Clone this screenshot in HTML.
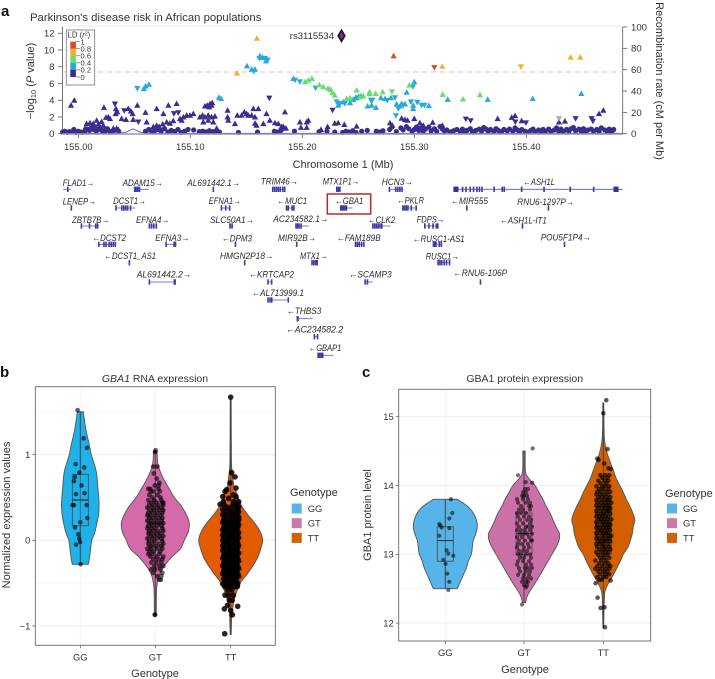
<!DOCTYPE html>
<html lang="en">
<head>
<meta charset="utf-8">
<title>GBA1 Parkinson's disease risk figure</title>
<style>
html,body{margin:0;padding:0;background:#fff;width:715px;height:679px;overflow:hidden}
svg{display:block;font-family:"Liberation Sans",sans-serif;fill:#333}
</style>
</head>
<body>
<svg id="figure" width="715" height="679" viewBox="0 0 715 679" xmlns="http://www.w3.org/2000/svg">
  <text x="1" y="16" font-size="15" font-weight="bold" fill="#111">a</text>
  <text x="30" y="21" font-size="11.3">Parkinson's disease risk in African populations</text>
  <text transform="translate(34,81) rotate(-90)" text-anchor="middle" font-size="11">−log<tspan font-size="7.5" dy="2">10</tspan><tspan dy="-2"> (</tspan><tspan font-style="italic">P</tspan> value)</text>
  <text transform="translate(656,81) rotate(90)" text-anchor="middle" font-size="11">Recombination rate (cM per Mb)</text>
  <text x="343" y="168" text-anchor="middle" font-size="11">Chromosome 1 (Mb)</text>
  <text x="334" y="39" text-anchor="end" font-size="9.5">rs3115534</text>

  <g id="panelA"></g>
  <g id="genes"></g>
  <rect x="327.3" y="194" width="43.4" height="20" fill="none" stroke="#c0272d" stroke-width="1.5"></rect>

  <g>
    <rect x="66.3" y="30" width="28.4" height="55" fill="#fff" stroke="#777" stroke-width="0.8"></rect>
    <text x="67.5" y="37.3" font-size="7.8">LD (<tspan font-style="italic">r</tspan><tspan font-size="5" dy="-2">2</tspan><tspan dy="2">)</tspan></text>
    <g id="ldLegend"></g>
  </g>

  <text x="0" y="377" font-size="15" font-weight="bold" fill="#111">b</text>
  <text x="155" y="382" text-anchor="middle" font-size="10.5"><tspan font-style="italic">GBA1</tspan> RNA expression</text>
  <text transform="translate(10,515) rotate(-90)" text-anchor="middle" font-size="11">Normalized expression values</text>
  <text x="155" y="677" text-anchor="middle" font-size="11">Genotype</text>
  <g id="panelB"></g>
  <text x="290" y="496" font-size="11">Genotype</text>
  <g id="legendB"></g>

  <text x="362" y="377" font-size="15" font-weight="bold" fill="#111">c</text>
  <text x="524.7" y="382" text-anchor="middle" font-size="10.5">GBA1 protein expression</text>
  <text transform="translate(371,515) rotate(-90)" text-anchor="middle" font-size="11">GBA1 protein level</text>
  <text x="525" y="673" text-anchor="middle" font-size="11">Genotype</text>
  <g id="panelC"></g>
  <text x="665" y="497" font-size="11">Genotype</text>
  <g id="legendC"></g>
</svg>

<script>
/* ---------- Panel a data: position is kb after 155.00 Mb, then -log10 P, then marker shape ---------- */
const mbTicks = [0, 100, 200, 300, 400];
const mbTickLabels = ['155.00', '155.10', '155.20', '155.30', '155.40'];
const logPTicks = [0, 2, 4, 6, 8, 10, 12];
const recombTicks = [0, 20, 40, 60, 80, 100];
const significanceLine = 7.37;
const leadSnp = [235, 11.7];
const recombKb = [-14, 20, 35, 42, 49, 56, 65, 100, 200, 300, 400, 486];
const recombRate = [0.3, 0.4, 0.5, 1.2, 4.5, 1.2, 0.5, 0.3, 0.3, 0.3, 0.3, 0.3];
const ldNavyBand = [[-14,.2],[-12,.3],[-10,.15],[-8,.25],[-6,.2],[-4,.5],[-2,.15],[0,.3],[2,.2],[4,.15],[6,.3],[8,.55],[10,.4],[12,.7],[14,.5],[16,.3],[18,.55],[20,.5],[22,.2],[24,.35],[26,.6],[28,.3],[30,.2],[32,.4],[36,.3],[60,.3],[63,.5],[66,.2],[68,.35],[71,.5],[74,.3],[77,.6],[80,.2],[83,.4],[86,.25],[89,.5],[92,.15],[95,.3],[98,.5],[103,.45],[108,.25],[111,.3],[114,.2],[117,.35],[120,.25],[123,.3],[126,.2],[143,.15],[160,.2],[175,.3],[178,.2],[181,.4],[193,.3],[215,.25],[222,.3],[229,.2],[236,.15],[239,.3],[242,.2],[245,.35],[248,.15],[253,.3],[258,.4],[266,.3],[269,.2],[272,.35],[278,.5],[280,.8],[284,.25],[288,.7],[290,.45],[293,.85],[295,.6],[298,.3],[300,.5],[302,.8],[304,.4],[306,.7],[308,.3],[310,.55],[313,.8],[315,.35],[318,.6],[320,.3],[323,.85],[325,.55],[327,.3],[329,.45],[332,.2],[335,.35],[338,.5],[341,.3],[343,.55],[345,.2],[347,.4],[350,.6],[352,.25],[355,.4],[358,.55],[360,.3],[362,.75],[364,.55],[366,.3],[368,.5],[371,.3],[373,.6],[375,.4],[378,.25],[380,.5],[383,.35],[385,.55],[388,.3],[390,.7],[392,.45],[394,.2],[396,.5],[399,.3],[402,.2],[404,.4],[406,.55],[408,.25],[411,.45],[413,.2],[415,.5],[417,.3],[420,.55],[422,.25],[425,.45],[427,.7],[429,.3],[431,.55],[433,.25],[436,.5],[438,.3],[440,.6],[442,.75],[444,.35],[447,.55],[449,.3],[451,.6],[453,.2],[455,.45],[458,.55],[460,.3],[463,.5],[465,.25],[467,.7],[470,.45],[472,.3],[474,.55],[476,.2],[478,.5]];
const ldNavyUp = [[-6.5,3.4],[-3.6,4],[22.9,3.15],[33.6,3],[34.8,2.6],[33.3,2.4],[44.6,3],[52.7,3.4],[48.5,2.4],[47,2.7],[60,2.55],[70,3],[76,2.4],[80.4,3.4],[87.8,3.6],[24.7,1.95],[26.8,2],[28.3,1.8],[16.4,1.6],[13.4,1.2],[7.4,1.2],[10.4,1.3],[17.9,1.15],[14.9,.85],[20.8,1.45],[19.3,.85],[22.3,1],[23.8,.65],[10.4,.65],[6,.65],[31.3,.65],[34.2,.65],[35.7,.5],[38.7,1.8],[42.6,1.7],[49,1.7],[61,1.4],[67,.85],[70,1],[72.3,.85],[75.3,1.15],[78.9,1.4],[81.8,1.25],[84.8,1.55],[90.8,1.8],[93.8,2],[96.7,2.2],[99.7,2.2],[102.7,2.4],[92.3,1.6],[108.6,2],[111,2.2],[113.1,2],[116,2.2],[119,2],[122,2.1],[111.6,1.4],[116,1.6],[120.5,1.4],[123.5,.65],[113.1,3.3],[115.2,3.4],[117.6,3.6],[119.6,3.7],[119,3.4],[116.9,3.2],[133.3,2.8],[133.3,2],[133.9,1.6],[139.9,1.2],[142,2.2],[145.8,2.2],[148.2,2.6],[150.3,2.4],[151.8,2.2],[154.8,2.2],[156.3,3],[160.7,3],[157.8,2],[157.8,1.25],[159.2,1],[165.2,1.2],[168,2.4],[171,1.6],[175.6,1.3],[178.6,1.2],[183,.85],[184.5,2.6],[181.5,.85],[185.4,.65],[197.9,1.4],[198.8,.75],[203.9,.75],[205.4,1.6],[203.9,1.4],[216.7,.5],[222.6,.85],[229,1.25],[232,1.3],[237.5,1.1],[248.5,.9],[288.7,1.85],[291.7,1.7],[294,1.6],[300,1.8],[305,1.3],[308,1],[316.4,1.35],[325,1],[374.4,1.8],[387,1.95],[390,2.15],[395.8,1.55],[429.2,1.4],[434.5,1.5],[464.9,2.4],[468.8,2.8],[278.3,1.3],[280.4,1]];
const ldNavyDown = [[32.7,3.55],[41,2.75],[53.6,1.4],[85.4,2.4],[89.3,2.5],[170.5,4.25],[227,2.8],[346,1.75],[350.3,1.55],[390.2,1.4],[399.7,1.3],[444,1.8],[458.3,1.8],[459.5,1.5]];
const ldCyanUp = [[58.6,5.4],[60.1,5.7],[63.1,5.9],[125.5,4.35],[127.5,4.2],[150.6,8.1],[154.8,7.7],[157.7,7.7],[162.2,9.3],[164.6,9.1],[167.6,8.7],[192,6.6],[232.1,3.4],[236.6,3.8],[242.6,3.7],[245.5,4.1],[248.5,4.3],[250.9,4.4],[247.6,4.3],[250,4.4],[252.4,4.5],[258.3,3.3],[261.9,3.4],[265.8,3.15],[270.2,4.3],[273.8,4.2],[279.2,4.3],[293.2,4.95],[300,6.2],[284.2,3.55],[287.2,3.3],[288.7,3.6],[291.7,3.55],[299,3],[299,3.4],[313,3.35],[329.8,4.1],[365.5,4.1],[405.7,4.2],[449.1,4.8]];
const ldCyanDown = [[52.7,5.4],[156.8,7.45],[161.6,9],[166.7,9],[169,8.8],[193.5,6.4],[197.9,6.2],[211.9,5.45],[230.7,3.8],[233.6,3.6],[238,3.6],[261.3,4],[262.5,4],[275.9,4],[282.7,4.3],[283.6,2.15],[298.8,5.6],[285.7,3],[290.2,3.4],[286.3,3.15],[297,3.8],[302.7,3.75],[306.5,3.4],[309,3.4]];
const ldGreenUp = [[202.4,6.2],[205.4,6.4],[208.6,6.6],[215.2,5.85],[218.8,5.6],[223,5.45],[225.3,5.3],[227,4.9],[229,4.6],[239.6,4.2],[242.6,4.3],[248.5,5.2],[251.5,4.4],[254.5,4.5],[260,5],[260,4.8],[265.5,4.8],[271.7,5],[295.5,5.8],[325.3,4.7],[343.5,4.15],[358.6,4.65]];
const ldGreenDown = [[280,5]];
const ldYellowUp = [[159.5,11.4],[141.7,7.25],[325,8.05],[439.6,9.15],[448.2,9.15]];
const ldYellowDown = [[395.2,8]];
const ldRedUp = [[281.5,9.3]];
const ldRedDown = [[317.9,7.9]];
const ldGreyDown = [[429.2,1.8]];
const ldScaleLabels = ['1', '0.8', '0.6', '0.4', '0.2', '0'];
const ldScaleColors = ['#dc4a26', '#efb02f', '#62e06c', '#2aa9d6', '#3a2d90'];

/* ---------- Gene track data: label, label start/end, label row, gene start/end kb, exon fractions ---------- */
const geneRows = {r0:189.3, r1:208, r2:226, r3:244.3, r4:262.7, r5:282, r6:300, r7:318.7, r8:336.7, r9:355.3};
const geneList = [
 ['FLAD1→',62.7,94,182.7,-13.4,-6.8,'r0',[.6]],
 ['ADAM15→',122.7,162.7,182.7,50.3,62.8,'r0',[0,.1,.22,.34]],
 ['AL691442.1→',187.3,240,182.7,120.5,120.5,'r0',[0]],
 ['TRIM46→',260.7,298,181.3,173.5,184.8,'r0',[0,.15,.3,.45,.6,.8,.95]],
 ['MTX1P1→',322.7,359.3,181.3,230.7,234.2,'r0',[0,.4,.8]],
 ['HCN3→',381.7,412.7,181.7,277.7,290.2,'r0',[0,.45,.6,.75,.9]],
 ['←ASH1L',523.3,555,182,335.5,486.1,'r0',[0,.012,.05,.07,.095,.115,.135,.15,.165,.237,.285,.297,.4,.533,.688,.827,.958,.97]],
 ['LENEP→',62.7,96,201.3,-6.3,-6.3,'r1',[0]],
 ['DCST1→',113.3,145.7,200.7,33.6,50.9,'r1',[0,.3,.4,.5,.6,.75]],
 ['EFNA1→',208.7,240.7,200.7,127.7,135.4,'r1',[0,.5,.95]],
 ['←MUC1',277.3,307.3,200.7,185.4,193.2,'r1',[.05,.25,.7,.9]],
 ['←GBA1',335,363.3,200.7,234.2,244.9,'r1',[0,.12,.24,.36,.48]],
 ['←PKLR',397.3,424,200.3,289.7,302.2,'r1',[0,.12,.24,.36,.6,.95]],
 ['←MIR555',450.7,488,200.7,346.8,346.8,'r1',[0]],
 ['RNU6-1297P→',517.3,574,202,419.7,419.7,'r1',[0]],
 ['ZBTB7B→',72,109.3,220,2.7,18.7,'r2',[0,.45,.8,.9]],
 ['EFNA4→',136,169.3,220,63.4,69.9,'r2',[0,.3,.6,.95]],
 ['SLC50A1→',210,254,220,135.4,138.4,'r2',[0,.6]],
 ['AC234582.1→',273.3,328.3,218.7,194.3,205.7,'r2',[0,.12,.24,.4]],
 ['←CLK2',367.7,395.3,219.7,262.9,278.9,'r2',[0,.1,.2,.3,.4,.5]],
 ['FDPS→',416.7,444.3,219.3,309.3,321.5,'r2',[0,.3,.6,.85,.95]],
 ['←ASH1L-IT1',500,546.7,220.3,396.5,396.5,'r2',[0]],
 ['←DCST2',92.3,126,237.7,18.2,33.6,'r3',[0,.3,.42,.6,.72,.84,.96]],
 ['EFNA3→',155.3,189.3,237.7,78.3,87.8,'r3',[0,.75,.88]],
 ['←DPM3',221.7,252,238.3,140.2,140.2,'r3',[0]],
 ['MIR92B→',278,316,237.7,194.9,194.9,'r3',[0]],
 ['←FAM189B',336.7,380.7,237.7,247.4,255.7,'r3',[0,.2,.4,.65,.9]],
 ['←RUSC1-AS1',412.7,464.7,238.7,317,324.5,'r3',[0,.15,.3,.7,.95]],
 ['POU5F1P4→',540.7,590.7,237.3,434,434,'r3',[0]],
 ['←DCST1_AS1',104.3,156,256,45.5,45.5,'r4',[0]],
 ['HMGN2P18→',220,273.3,256,148.5,148.5,'r4',[0]],
 ['MTX1→',300,327.3,256,208.6,214,'r4',[0,.3,.6,.85]],
 ['RUSC1→',425.7,459,256.3,321.2,331.9,'r4',[0,.15,.3,.5,.7,.95]],
 ['AL691442.2→',136.7,191.3,274.3,63.4,86.6,'r5',[0,.96,.99]],
 ['←KRTCAP2',249,294,274.3,169.3,172.9,'r5',[0,.9]],
 ['←SCAMP3',349,391.7,274.3,256,262.9,'r5',[0,.3]],
 ['←RNU6-106P',453.3,507.3,273,359,359,'r5',[0]],
 ['←AL713999.1',252,304,292.7,169.3,187.8,'r6',[0,.1,.18,.98]],
 ['←THBS3',286.7,321.3,311,195.5,209.2,'r7',[0,.04]],
 ['←AC234582.2',286,343.3,329.3,210.7,214,'r8',[0,.85]],
 ['←GBAP1',308.7,341.3,348,214,227.7,'r9',[0,.1,.2,.3]]
];

/* ---------- Violin data: levels in expression units, density as half-width units ---------- */
const genotypes = ['GG', 'GT', 'TT'];
const rnaTicks = [-1, 0, 1];
const rnaMinor = [-0.5, 0.5, 1.5];
const proteinTicks = [12, 13, 14, 15];
const proteinMinor = [12.5, 13.5, 14.5];

const rnaGGLevels = [1.5,1.3,1.1,1,.8,.6,.45,.3,.1,0,-.1,-.2,-.28];
const rnaGGDensity = [3,5.5,9.3,11,16,17.7,18.7,18.2,14.7,11.5,10.3,9.3,8];
const rnaGTLevels = [1.04,.9,.8,.7,.6,.5,.4,.3,.2,.1,0,-.1,-.2,-.3,-.4,-.5,-.6,-.87];
const rnaGTDensity = [1.8,2.5,5,9,14,19,26,31,34,33,29,25,16,9,4,2,1.2,1];
const rnaTTLevels = [1.65,1,.85,.75,.65,.5,.4,.3,.2,.1,0,-.1,-.2,-.3,-.4,-.5,-.6,-.7,-.8,-.9,-1.1];
const rnaTTDensity = [.5,.7,1,2,3,7.5,11,17,24,29.5,32,30,27,22,16,9.5,6,3.3,2,1,.5];

const rnaGGBox = [-.28,.17,.47,.77,1.5];
const rnaGTBox = [-.87,-.07,.2,.45,1.04];
const rnaTTBox = [-1.1,-.52,-.05,.4,1.65];

const rnaGGPoints = [[1.52,-2.7],[1.19,3.3],[1.08,6.7],[.89,-4.7],[.85,4],[.79,-1],[.74,-5.3],[.69,-6.3],[.64,1.3],[.54,-4.3],[.55,4.3],[.41,-7.7],[.41,-6.3],[.41,6.3],[.26,7],[.21,0],[.15,-5.3],[.07,-2],[.02,-1],[-.02,-.3],[-.05,-4.3],[-.28,.3]];
const rnaGTPoints = [[1.05,.3],[1.03,-.2],[.86,-2,2],[.78,-1.5],[.72,1.5],[.67,4],[.64,-.5,3.5],[.6,-7,-5,3],[.57,-4.5,-2,4.5],[.53,-6,2],[.5,-3,5],[.47,-7,-1,6],[.44,-4,1,7,8],[.41,-6,-2,3,8],[.38,-8,-3,2,6],[.35,-5,-1,4,8],[.32,-7,-3,2,7],[.29,-8,-5,0,5],[.26,-6,-2,3,7],[.23,-8,-4,1,6],[.2,-5,-1,4,8],[.17,-7,-3,2,6],[.14,-8,-4,0,7],[.11,-6,-2,3,8],[.08,-7,-4,1,5],[.05,-5,-1,4,8],[.02,-8,-3,2,6],[-.01,-6,-1,7],[-.04,-7,-3,3,8],[-.07,-5,0,6],[-.1,-8,-4,2,7],[-.13,-6,-2,5],[-.16,-7,-3,4],[-.19,-5,1,8],[-.22,-2,3,7],[-.26,-4,1,6],[-.3,-1,4,8],[-.34,-4,0,5],[-.38,-2,7],[-.42,2,6],[-.46,4,5.5],[-.87,-.3,-.5]];
const rnaTTPoints = [[1.67,0],[.79,1],[.74,4.3],[.67,-.7],[.61,5.3],[.59,-4],[.57,-5.7],[.53,2.7],[.51,-8,5.3],[.49,-2],[.45,-7.3,3,8],[.42,-7,3,6,-10.7],[.39,-4,8,1],[.36,-8,-2,5,7],[.33,-6,0,3,8],[.3,-8,-3,2,6],[.27,-5,-1,4,8],[.24,-7,-3,1,5,8],[.21,-8,-4,0,3,7],[.18,-6,-2,2,6,8],[.15,-7,-4,0,4,7],[.12,-8,-5,-1,3,6],[.09,-6,-3,1,5,8],[.06,-8,-4,-1,2,6],[.03,-7,-2,1,4,8],[0,-8,-5,-2,2,6],[-.03,-6,-3,0,4,7],[-.06,-8,-4,-1,3,8],[-.09,-7,-2,1,5,7],[-.12,-8,-5,-1,3,6],[-.15,-6,-3,0,4,8],[-.18,-7,-4,-1,2,6],[-.21,-8,-3,1,5,7],[-.24,-6,-2,2,4,8],[-.27,-7,-4,0,3,6],[-.3,-8,-5,-1,3,7],[-.33,-6,-2,1,5,8],[-.36,-7,-3,0,4,6],[-.39,-8,-4,-1,2,7],[-.42,-6,-2,2,5,8],[-.45,-7,-3,1,4],[-.48,-5,-1,3,6],[-.51,-8,-3,1,7],[-.54,-6,0,4,6.7,-4],[-.58,1,-3],[-.64,-5.7,2.7,-2],[-.7,-1.3,1.5],[-.76,-3.3],[-.77,7],[-.8,-6.3],[-.82,0],[-.87,1.7],[-1.09,-6]];

const protGGLevels = [13.8,13.7,13.6,13.5,13.4,13.3,13.2,13.1,13,12.9,12.8,12.7,12.6,12.5];
const protGGDensity = [12,22,28,31,32,30.5,28,27,26,23,21,18,15,12];
const protGTLevels = [14.5,14.2,14.1,14,13.9,13.8,13.7,13.6,13.5,13.4,13.3,13.2,13.1,13,12.9,12.8,12.7,12.6,12.5,12.4,12.3];
const protGTDensity = [1.2,1.5,5,11,15,19,22,26,29,32,35.5,35,32,28,24,20,16,12,7.5,3.5,1.6];
const protTTLevels = [15.2,14.7,14.5,14.4,14.3,14.2,14.1,14,13.9,13.8,13.7,13.6,13.5,13.4,13.3,13.2,13.1,13,12.9,12.8,12.7,12.6,12.5,12.4,12,11.93];
const protTTDensity = [.5,1,3.3,5.5,8,10.5,13,16.5,20,23,26.5,29.5,31.5,30,29,27,24.5,20,17,13.5,10,6,2.7,1.2,.5,.3];

const protGGBox = [12.5,12.9,13.2,13.4,13.8];
const protGTBox = [12.3,13,13.3,13.6,14.5];
const protTTBox = [11.93,13,13.4,13.7,15.2];

const protGGPoints = [[13.8,5.7],[13.6,7],[13.52,4],[13.44,-6],[13.42,-5],[13.39,-3.7],[13.38,4],[13.27,-6],[13.06,1.3],[13.01,3],[12.98,8],[12.92,-2],[12.86,.3],[12.72,2],[12.6,4],[12.48,3]];
const protGTPoints = [[14.54,8.7],[14.15,-6],[14.05,1.7],[14.04,8.3],[13.95,1,4],[13.9,-1,2],[13.85,-2,0,3],[13.8,-7,-1,4],[13.75,-6,2,6],[13.7,-3,5,7],[13.65,-5,-1,6],[13.6,-7,-3,2],[13.55,-6,0,5],[13.5,-4,3,7],[13.45,-7,-1,6],[13.4,-5,2,4,8],[13.35,-7,-3,1,6],[13.3,-4,0,3,8],[13.25,-7,-2,5],[13.2,-5,1,7,8],[13.15,-6,-2,4],[13.1,-7,0,5],[13.05,-5,-1,3],[13,-6,-3,2,6],[12.95,-4,0,7],[12.9,-6,-1,5],[12.85,-7,2,7],[12.8,-5,1,4,8],[12.75,-4,2,6],[12.7,-6,0,5],[12.65,-1,3,7],[12.6,-2,2,4],[12.55,0,3],[12.52,2],[12.27,-2]];
const protTTPoints = [[15.24,3],[15.05,0],[14.53,4.3],[14.39,-6],[14.37,-4.7],[14.32,1],[14.25,5],[14.24,7.3],[14.15,-3,2,6],[14.11,-1,4],[14.07,-5,1,5],[14.03,-3,3],[13.99,-7,-1,2,6],[13.95,-4,0,5],[13.91,-6,-2,3,7],[13.87,-7,-3,1,5],[13.83,-5,-1,3,7],[13.79,-7,-3,1,4,6],[13.75,-6,-2,2,5,8],[13.71,-7,-4,0,3,6],[13.67,-5,-1,2,5,7],[13.63,-7,-3,1,4,6],[13.59,-6,-2,0,3,7],[13.55,-7,-4,-1,2,5],[13.51,-5,-2,1,4,8],[13.47,-7,-3,0,3,6],[13.43,-6,-1,2,5,7],[13.39,-7,-4,0,3,6],[13.35,-5,-2,1,4,7],[13.31,-7,-3,0,3,5],[13.27,-6,-1,2,6,8],[13.23,-7,-4,0,4,6],[13.19,-5,-2,1,3,7],[13.15,-7,-3,0,5],[13.11,-6,-1,2,6],[13.07,-4,0,3,7],[13.03,-7,-2,2,5],[12.99,-5,0,4],[12.95,-3,1,6],[12.91,-8,-2,3],[12.87,-4,1,5],[12.83,-6,-1,4,7],[12.79,-8,-3,2,6],[12.75,-5,0,4],[12.71,-3,2,6],[12.67,-6,0,3],[12.63,-1.7,-4],[12.62,7.3],[12.58,-7.7],[12.37,-5.7],[12.23,1.3],[12.22,-2.7],[11.94,1.7]];

/* ---------- Drawing helpers ---------- */
const NS = 'http://www.w3.org/2000/svg';
function mk(parent, tag, attrs, txt) {
  const node = document.createElementNS(NS, tag);
  for (const k in attrs) node.setAttribute(k, attrs[k]);
  if (txt !== undefined) node.textContent = txt;
  parent.appendChild(node);
  return node;
}
function byId(id) { return document.getElementById(id); }

/* ---------- Panel a axes ---------- */
const xA = kb => 78.3 + kb * 1.12;
const yA = v => 133.7 - v * 8.37;
const yR = r => 133.7 - r * 1.067;
const pa = byId('panelA');
let el;

el = mk(pa, 'line', {x1:62.5, x2:622.7, y1:26, y2:26, stroke:'#eee', 'stroke-width':1.2});


el = mk(pa, 'line', {x1:62.5, x2:62.5, y1:27, y2:134, stroke:'#777', 'stroke-width':1});


el = mk(pa, 'line', {x1:622.7, x2:622.7, y1:27, y2:134, stroke:'#555', 'stroke-width':0.8});


el = mk(pa, 'line', {x1:62, x2:623, y1:yA(significanceLine), y2:yA(significanceLine), stroke:'#c8c8c8', 'stroke-width':1, 'stroke-dasharray':'5 4'});



logPTicks.forEach(t => {
  el = mk(pa, 'line', {x1:58, x2:62.5, y1:yA(t), y2:yA(t), stroke:'#555', 'stroke-width':0.8});
  
  
  el = mk(pa, 'text', {x:54.5, y:yA(t) + 3.4, 'text-anchor':'end', 'font-size':9.6}, String(t));
  
  
});
recombTicks.forEach(t => {
  el = mk(pa, 'line', {x1:622.7, x2:627, y1:yR(t), y2:yR(t), stroke:'#555', 'stroke-width':0.8});
  
  
  el = mk(pa, 'text', {x:631, y:yR(t) + 3.4, 'font-size':9.6}, String(t));
  
  
});
mbTicks.forEach((t, i) => {
  el = mk(pa, 'line', {x1:xA(t), x2:xA(t), y1:134, y2:138, stroke:'#555', 'stroke-width':0.8});
  
  
  el = mk(pa, 'text', {x:xA(t), y:150, 'text-anchor':'middle', 'font-size':9.4}, mbTickLabels[i]);
  
  
});

el = mk(pa, 'polyline', {points: recombKb.map((k, i) => xA(k) + ',' + yR(recombRate[i])).join(' '), fill:'none', stroke:'#3f55d8', 'stroke-width':0.9});



function snpMark(parent, kb, v, shape, color, size) {
  const x = xA(kb), y = yA(v), s = size;
  if (shape === 'o') return mk(parent, 'circle', {cx:x, cy:y, r:2.6, fill:color});
  if (shape === 'u') return mk(parent, 'polygon', {points:`${x},${y - s} ${x - s},${y + s * .8} ${x + s},${y + s * .8}`, fill:color});
  return mk(parent, 'polygon', {points:`${x},${y + s} ${x - s},${y - s * .8} ${x + s},${y - s * .8}`, fill:color});
}
const snpLayers = [
  [ldNavyBand, 'o', '#3a2d90', 'snp-ld-0'],
  [ldNavyUp, 'u', '#3a2d90', 'snp-ld-0'],
  [ldNavyDown, 'd', '#3a2d90', 'snp-ld-0'],
  [ldGreyDown, 'd', '#a9a9a9', 'snp-no-ld'],
  [ldCyanUp, 'u', '#2aa9d6', 'snp-ld-0.2'],
  [ldCyanDown, 'd', '#2aa9d6', 'snp-ld-0.2'],
  [ldGreenUp, 'u', '#62e06c', 'snp-ld-0.4'],
  [ldGreenDown, 'd', '#62e06c', 'snp-ld-0.4'],
  [ldYellowUp, 'u', '#efb02f', 'snp-ld-0.6'],
  [ldYellowDown, 'd', '#efb02f', 'snp-ld-0.6'],
  [ldRedUp, 'u', '#dc4a26', 'snp-ld-0.8'],
  [ldRedDown, 'd', '#dc4a26', 'snp-ld-0.8']
];
snpLayers.forEach(layer => {
  layer[0].forEach(p => {
    el = snpMark(pa, p[0], p[1], layer[1], layer[2], 3.1);
    
    
  });
});
el = mk(pa, 'line', {x1:62, x2:623, y1:134, y2:134, stroke:'#999', 'stroke-width':1.4});


{
  const lx = xA(leadSnp[0]), ly = yA(leadSnp[1]);
  el = mk(pa, 'polygon', {points:`${lx},${ly - 5.5} ${lx + 3.2},${ly} ${lx},${ly + 5.5} ${lx - 3.2},${ly}`, fill:'#8a2aa0', stroke:'#1a1a1a', 'stroke-width':1.8});
  
  
}

/* ---------- LD colour scale ---------- */
const ldG = byId('ldLegend');
ldScaleColors.forEach((c, i) => {
  el = mk(ldG, 'rect', {x:70.3, y:41.7 + i * 7.05, width:5.6, height:7.1, fill:c});
  
  
});
ldScaleLabels.forEach((t, i) => {
  el = mk(ldG, 'line', {x1:76, x2:80, y1:41.7 + i * 7.05, y2:41.7 + i * 7.05, stroke:'#555', 'stroke-width':0.6});
  
  
  el = mk(ldG, 'text', {x:80.5, y:44.5 + i * 7.05, 'font-size':7.6}, t);
  
  
});

/* ---------- Gene track ---------- */
const gg = byId('genes');
geneList.forEach(g => {
  const [label, lx0, lx1, ly, start, end, row, exons] = g;
  const ty = geneRows[row], x0 = xA(start), x1 = xA(end);
  el = mk(gg, 'text', {x:lx0, y:ly + 3.2, 'font-size':9.2, 'font-style':'italic', textLength:(lx1 - lx0).toFixed(1), lengthAdjust:'spacingAndGlyphs', fill:'#2a2a2a'}, label);
  
  
  if (end > start) {
    el = mk(gg, 'line', {x1:x0, x2:x1, y1:ty, y2:ty, stroke:'#5555bb', 'stroke-width':0.8});
    
    
  }
  exons.forEach(f => {
    el = mk(gg, 'rect', {x:x0 + (x1 - x0) * f - 0.7, y:ty - 2.7, width:1.6, height:5.4, fill:'#3c3ca6'});
    
    
  });
});
{
  const ash = geneList.find(g => g[0] === '←ASH1L');
  const s = xA(ash[4]), e = xA(ash[5]);
  el = mk(gg, 'rect', {x:s, y:186.6, width:4.4, height:5.4, fill:'#33339c'});
  
  
  el = mk(gg, 'rect', {x:s + (e - s) * .945, y:186.6, width:4.6, height:5.4, fill:'#33339c'});
  
  
}

/* ---------- Violin panels ---------- */
function smoothSide(pts) {
  let d = '';
  for (let i = 0; i < pts.length - 1; i++) {
    const p0 = pts[Math.max(i - 1, 0)], p1 = pts[i], p2 = pts[i + 1], p3 = pts[Math.min(i + 2, pts.length - 1)];
    d += ` C${(p1[0] + (p2[0] - p0[0]) / 6).toFixed(1)},${(p1[1] + (p2[1] - p0[1]) / 6).toFixed(1)} ${(p2[0] - (p3[0] - p1[0]) / 6).toFixed(1)},${(p2[1] - (p3[1] - p1[1]) / 6).toFixed(1)} ${p2[0].toFixed(1)},${p2[1].toFixed(1)}`;
  }
  return d;
}
function drawPanel(cfg) {
  const g = byId(cfg.id);
  let node;
  cfg.minor.forEach(t => {
    node = mk(g, 'line', {x1:cfg.left, x2:cfg.right, y1:cfg.y(t), y2:cfg.y(t), stroke:'#f4f4f4', 'stroke-width':0.8});
    
    
  });
  cfg.ticks.forEach(t => {
    node = mk(g, 'line', {x1:cfg.left, x2:cfg.right, y1:cfg.y(t), y2:cfg.y(t), stroke:'#ededed', 'stroke-width':1});
    
    
    node = mk(g, 'line', {x1:cfg.left - 3, x2:cfg.left, y1:cfg.y(t), y2:cfg.y(t), stroke:'#555', 'stroke-width':0.7});
    
    
    node = mk(g, 'text', {x:cfg.left - 5, y:cfg.y(t) + 3.4, 'text-anchor':'end', 'font-size':9.4}, String(t).replace('-', '−'));
    
    
  });
  cfg.groups.forEach((v, i) => {
    const cx = cfg.cats[i];
    node = mk(g, 'line', {x1:cx, x2:cx, y1:cfg.top, y2:cfg.bottom, stroke:'#f0f0f0', 'stroke-width':0.9});
    
    
    node = mk(g, 'line', {x1:cx, x2:cx, y1:cfg.bottom, y2:cfg.bottom + 3, stroke:'#555', 'stroke-width':0.7});
    
    
    node = mk(g, 'text', {x:cx, y:cfg.bottom + 15, 'text-anchor':'middle', 'font-size':9.4}, genotypes[i]);
    
    
  });
  cfg.groups.forEach((v, i) => {
    const cx = cfg.cats[i];
    const right = v.levels.map((l, k) => [cx + v.density[k], cfg.y(l)]);
    const left = v.levels.map((l, k) => [cx - v.density[k], cfg.y(l)]).reverse();
    const d = `M${right[0][0]},${right[0][1]}` + smoothSide(right) + ` L${left[0][0]},${left[0][1]}` + smoothSide(left) + ' Z';
    node = mk(g, 'path', {d, fill:v.color, stroke:'#555', 'stroke-width':0.9});
    
    
    const b = v.box;
    node = mk(g, 'line', {x1:cx, x2:cx, y1:cfg.y(b[0]), y2:cfg.y(b[4]), stroke:'#444', 'stroke-width':1});
    
    
    node = mk(g, 'rect', {x:cx - 8, y:cfg.y(b[3]), width:16, height:cfg.y(b[1]) - cfg.y(b[3]), fill:v.color, 'fill-opacity':0.35, stroke:'#444', 'stroke-width':0.8});
    
    
    node = mk(g, 'line', {x1:cx - 8, x2:cx + 8, y1:cfg.y(b[2]), y2:cfg.y(b[2]), stroke:'#333', 'stroke-width':1.2});
    
    
    v.points.forEach(row => {
      row.slice(1).forEach(off => {
        node = mk(g, 'circle', {cx:cx + off, cy:cfg.y(row[0]), r:v.r, fill:'#000', 'fill-opacity':v.alpha});
        
        
      });
    });
  });
  node = mk(g, 'rect', {x:cfg.left, y:cfg.top, width:cfg.right - cfg.left, height:cfg.bottom - cfg.top, fill:'none', stroke:'#666', 'stroke-width':0.9});
  
  
  const lg = byId(cfg.legendId);
  cfg.legendColors.forEach((c, i) => {
    node = mk(lg, 'rect', {x:cfg.legendX, y:cfg.legendY + i * 14.7 - 5, width:10, height:10, fill:c});
    
    
    node = mk(lg, 'text', {x:cfg.legendX + 16, y:cfg.legendY + i * 14.7 + 3.4, 'font-size':9.4}, genotypes[i]);
    
    
  });
}
const yB = v => 540.3 - v * 85.7;
const yC = v => 554.3 - (v - 13) * 68.8;
drawPanel({
  id:'panelB', legendId:'legendB', left:35.3, right:275.3, top:386.7, bottom:645.3, y:yB,
  ticks:rnaTicks, minor:rnaMinor, cats:[80.3, 155.3, 230.7],
  legendX:291.7, legendY:508.5, legendColors:['#56b4e9', '#cc79a7', '#d55e00'],
  groups:[
    {levels:rnaGGLevels, density:rnaGGDensity, box:rnaGGBox, points:rnaGGPoints, color:'#1fb1e8', r:2.3, alpha:.62},
    {levels:rnaGTLevels, density:rnaGTDensity, box:rnaGTBox, points:rnaGTPoints, color:'#d56aa8', r:2.4, alpha:.62},
    {levels:rnaTTLevels, density:rnaTTDensity, box:rnaTTBox, points:rnaTTPoints, color:'#e35a00', r:2.8, alpha:.85}
  ]
});
drawPanel({
  id:'panelC', legendId:'legendC', left:398.7, right:650.7, top:389.3, bottom:641, y:yC,
  ticks:proteinTicks, minor:proteinMinor, cats:[445.3, 524, 603.3],
  legendX:667, legendY:508.5, legendColors:['#56b4e9', '#cc79a7', '#d55e00'],
  groups:[
    {levels:protGGLevels, density:protGGDensity, box:protGGBox, points:protGGPoints, color:'#56b4e9', r:2.1, alpha:.55},
    {levels:protGTLevels, density:protGTDensity, box:protGTBox, points:protGTPoints, color:'#cc70a8', r:2.1, alpha:.55},
    {levels:protTTLevels, density:protTTDensity, box:protTTBox, points:protTTPoints, color:'#d45f00', r:2.3, alpha:.65}
  ]
});
</script>
</body>
</html>
